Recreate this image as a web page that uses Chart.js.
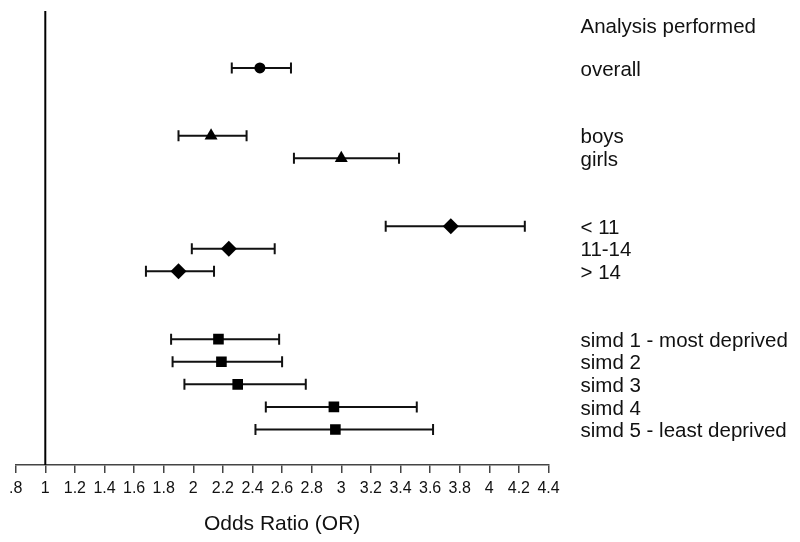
<!DOCTYPE html>
<html>
<head>
<meta charset="utf-8">
<script src="https://cdn.jsdelivr.net/npm/chart.js@4"></script>
<style>
html,body{margin:0;padding:0;background:#fff}
#wrap{width:800px;height:542px;position:relative}
</style>
</head>
<body>
<div id="wrap"><canvas id="c"></canvas></div>
<script>
// ---- data ----
const headerLabel = 'Analysis performed';
const headerRow = -1.9;
const categories = ['overall','boys','girls','< 11','11-14','> 14',
  'simd 1 - most deprived','simd 2','simd 3','simd 4','simd 5 - least deprived'];
const rowPositions = [0, 3, 4, 7, 8, 9, 12, 13, 14, 15, 16];
const oddsRatio = [2.45, 2.12, 3.00, 3.74, 2.24, 1.90, 2.17, 2.19, 2.30, 2.95, 2.96];
const ciLower   = [2.26, 1.90, 2.68, 3.30, 1.99, 1.68, 1.85, 1.86, 1.94, 2.49, 2.42];
const ciUpper   = [2.66, 2.36, 3.39, 4.24, 2.55, 2.14, 2.58, 2.60, 2.76, 3.51, 3.62];
const markerStyles = ['circle','triangle','triangle','rectRot','rectRot','rectRot',
  'rect','rect','rect','rect','rect'];
const xTickValues = [0.8,1.0,1.2,1.4,1.6,1.8,2.0,2.2,2.4,2.6,2.8,3.0,3.2,3.4,3.6,3.8,4.0,4.2,4.4];
const xTickLabels = ['.8','1','1.2','1.4','1.6','1.8','2','2.2','2.4','2.6','2.8','3','3.2','3.4','3.6','3.8','4','4.2','4.4'];
const referenceOR = 1;
const xMin = 0.8, xMax = 4.4;
const yMin = -2.52, yMax = 17.57;

// ---- styles ----
const FONT = "'Liberation Sans', Arial, Helvetica, sans-serif";
const markerSize = {circle: 5.5, triangle: 7.5, rectRot: 8, rect: 7.5};
Chart.defaults.font.family = FONT;
Chart.defaults.color = '#000';

const rightLabels = [headerLabel].concat(categories);
const rightTicks = [headerRow].concat(rowPositions);

const datasets = [];
// reference line at OR = 1
datasets.push({
  type: 'line', label: 'ref', showLine: true, order: 3,
  data: [{x: referenceOR, y: yMin}, {x: referenceOR, y: yMax}],
  borderColor: '#000', borderWidth: 2, pointRadius: 0, fill: false
});
// confidence intervals
categories.forEach((c, i) => {
  datasets.push({
    type: 'line', label: c + ' CI', showLine: true, order: 2,
    data: [{x: ciLower[i], y: rowPositions[i]}, {x: ciUpper[i], y: rowPositions[i]}],
    borderColor: '#111', borderWidth: 2, fill: false,
    pointStyle: 'line', pointRotation: 90, pointRadius: 5.5, pointHoverRadius: 5.5,
    pointBorderWidth: 2, pointBorderColor: '#111', pointBackgroundColor: '#111'
  });
});
// point estimates
datasets.push({
  type: 'scatter', label: 'OR', order: 1,
  data: oddsRatio.map((v, i) => ({x: v, y: rowPositions[i]})),
  pointStyle: markerStyles,
  pointRadius: markerStyles.map(s => markerSize[s]),
  pointHoverRadius: markerStyles.map(s => markerSize[s]),
  backgroundColor: '#000', borderColor: '#000', borderWidth: 0
});

new Chart(document.getElementById('c'), {
  type: 'scatter',
  data: {datasets},
  options: {
    responsive: true,
    maintainAspectRatio: false,
    animation: false,
    layout: {padding: {left: 15.7, top: 11, right: 0, bottom: 0}},
    plugins: {legend: {display: false}, tooltip: {enabled: false}},
    scales: {
      x: {
        type: 'linear', min: xMin, max: xMax,
        afterBuildTicks: ax => { ax.ticks = xTickValues.map(v => ({value: v})); },
        ticks: {
          autoSkip: false, maxRotation: 0, minRotation: 0, padding: 6,
          color: '#111', font: {size: 16},
          callback: (v, i) => xTickLabels[i]
        },
        grid: {display: true, drawOnChartArea: false, drawTicks: true, tickLength: 8,
               color: '#444', lineWidth: 1.5},
        border: {display: true, color: '#444', width: 1.5},
        title: {display: true, text: 'Odds Ratio (OR)', color: '#111',
                font: {size: 21}, padding: {top: 0, bottom: 5}},
        afterFit: ax => { ax.height = 77; }
      },
      y: {
        type: 'linear', position: 'right', reverse: true, min: yMin, max: yMax,
        afterBuildTicks: ax => { ax.ticks = rightTicks.map(v => ({value: v})); },
        ticks: {
          autoSkip: false, padding: 32, labelOffset: 2, color: '#111', font: {size: 20.5},
          callback: (v, i) => rightLabels[i]
        },
        grid: {display: false, drawTicks: false},
        border: {display: false},
        afterFit: ax => { ax.width = 800 - 548.5; ax.paddingTop = 0; ax.paddingBottom = 0; }
      }
    }
  }
});
</script>
</body>
</html>
